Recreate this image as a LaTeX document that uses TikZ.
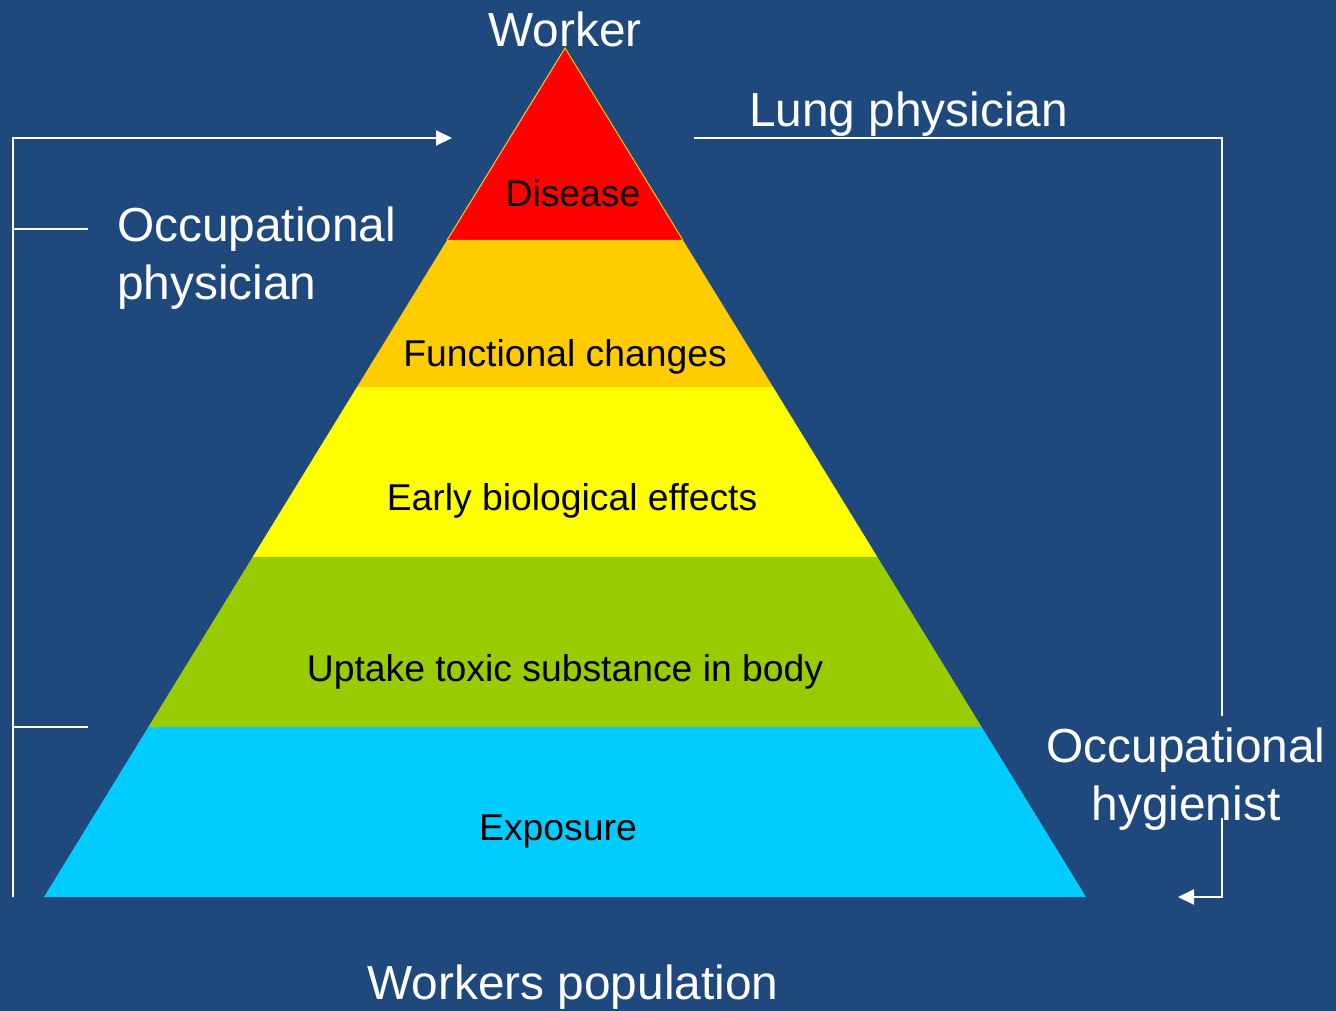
\documentclass[tikz,border=0pt]{standalone}
\usepackage{fontspec}
\setmainfont{Liberation Sans}
\usetikzlibrary{calc}
\usetikzlibrary{positioning}
\usetikzlibrary{arrows.meta}

\definecolor{slideBlue}{RGB}{31,73,125}
\definecolor{diseaseRed}{RGB}{255,0,0}
\definecolor{changeOrange}{RGB}{255,204,0}
\definecolor{effectYellow}{RGB}{255,255,0}
\definecolor{uptakeGreen}{RGB}{153,204,0}
\definecolor{exposureCyan}{RGB}{0,204,255}

\newcommand{\lineColor}{white}
\newcommand{\lineWidth}{2pt}
\newcommand{\roleFont}{\fontsize{47.8}{58}\selectfont}
\newcommand{\bandFont}{\fontsize{37.3}{42}\selectfont}
\tikzset{bracket/.style = {\lineColor, line width=\lineWidth}}
\tikzset{bracketArrow/.style = {bracket, -{Triangle[length=16pt, width=15pt]}}}
\tikzset{bandLabel/.style = {font=\bandFont, text=black, inner sep=0pt, anchor=base}}
\tikzset{roleLabel/.style = {font=\roleFont, text=white, inner sep=0pt}}

\begin{document}
\begin{tikzpicture}[x=1pt, y=-1pt]
    \fill[slideBlue] (0,0) rectangle (1336,1011);
    \useasboundingbox (0,0) rectangle (1336,1011);

    % pyramid corners
    \coordinate (apex) at (565,48);
    \coordinate (BL) at (44,897);
    \coordinate (BR) at (1086,897);

    % bands, top to bottom
    \foreach \a/\b/\C/\T/\x/\y/\N in {0/0.2261/diseaseRed/Disease/573/207/disease,
            0.2261/0.3993/changeOrange/Functional changes/565/366/changes,
            0.3993/0.5995/effectYellow/Early biological effects/572/510/effects,
            0.5995/0.7998/uptakeGreen/Uptake toxic substance in body/565/681/uptake,
            0.7998/1/exposureCyan/Exposure/558/840/exposure}
    {
        \fill[\C] ($(apex)!\a!(BL)$) -- ($(apex)!\a!(BR)$) -- ($(apex)!\b!(BR)$) -- ($(apex)!\b!(BL)$) -- cycle;
        \node[bandLabel] (\N) at (\x,\y) {\T};
    }
    \draw[changeOrange, line width=1pt] ($(apex)!0.2261!(BL)$) -- (apex) -- ($(apex)!0.2261!(BR)$);

    % who looks at which level
    \node[roleLabel, above=1pt of apex] (worker) {Worker};
    \node[roleLabel, anchor=base west] (lung) at (749,127) {Lung physician};
    \node[roleLabel, anchor=base] (population) at (573,999) {Workers population};
    \node[roleLabel, align=left, anchor=north west] (physician) at (117,207) {Occupational\\physician};
    \node[roleLabel, align=center, anchor=north] (hygienist) at (1186,728) {Occupational\\hygienist};

    % left bracket
    \coordinate (lTop) at (13,138);
    \coordinate (lTip) at (452,138);
    \coordinate (lBot) at (13,897);
    \coordinate (lTick1) at (88,229);
    \coordinate (lTick2) at (88,727);
    \draw[bracketArrow] (lBot) -- (lTop) -- (lTip);
    \draw[bracket] (lTop |- lTick1) -- (lTick1);
    \draw[bracket] (lTop |- lTick2) -- (lTick2);

    % right bracket
    \coordinate (rStart) at (694,138);
    \coordinate (rCorner) at (1222,138);
    \coordinate (rGapTop) at (1222,716);
    \coordinate (rGapBot) at (1222,818);
    \coordinate (rBot) at (1222,897);
    \coordinate (rTip) at (1178,897);
    \draw[bracket] (rStart) -- (rCorner) -- (rGapTop);
    \draw[bracketArrow] (rGapBot) -- (rBot) -- (rTip);
\end{tikzpicture}
\end{document}
